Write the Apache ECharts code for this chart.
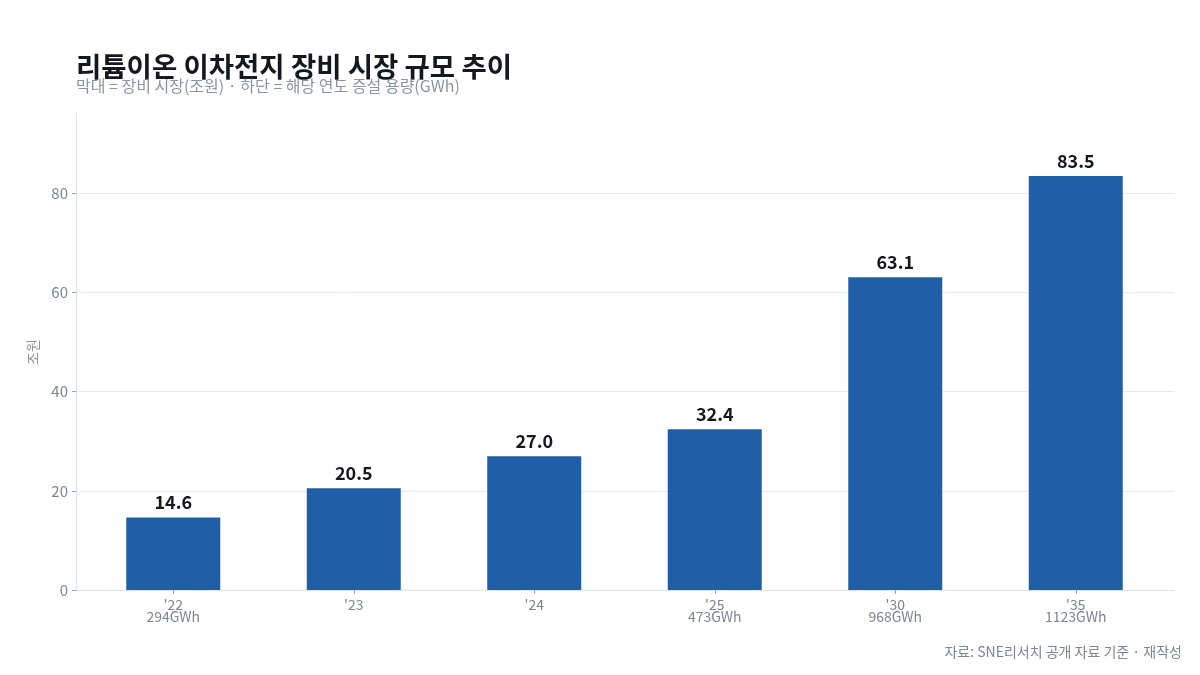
<!DOCTYPE html>
<html>
<head>
<meta charset="utf-8">
<script src="https://cdn.jsdelivr.net/npm/echarts@6/dist/echarts.min.js"></script>
<style>
  html, body { margin: 0; padding: 0; background: #fff; }
  #main { width: 1200px; height: 675px; }
</style>
</head>
<body>
<div id="main"></div>
<script>
var years = ["'22", "'23", "'24", "'25", "'30", "'35"];
var capacity = ['294GWh', '', '', '473GWh', '968GWh', '1123GWh'];
var marketSize = [14.6, 20.5, 27.0, 32.4, 63.1, 83.5];

var FONT = '"Noto Sans CJK KR", "Noto Sans", sans-serif';
var myChart;

document.addEventListener('DOMContentLoaded', function()
{
    myChart = echarts.init(document.getElementById('main'), null, { renderer: 'canvas' });

    var option = {
        backgroundColor: '#ffffff',
        textStyle: { fontFamily: FONT },
        title: [
            {
                text: '리튬이온 이차전지 장비 시장 규모 추이',
                left: 76,
                top: 53,
                padding: 0,
                textStyle: { fontSize: 27.5, fontWeight: 'bold', color: '#15191f', fontFamily: FONT }
            },
            {
                text: '막대 = 장비 시장(조원) · 하단 = 해당 연도 증설 용량(GWh)',
                left: 76,
                top: 78,
                padding: 0,
                textStyle: { fontSize: 16, fontWeight: 'normal', color: '#8a94a3', fontFamily: FONT }
            },
            {
                text: '자료: SNE리서치 공개 자료 기준 · 재작성',
                right: 18,
                top: 645,
                padding: 0,
                textStyle: { fontSize: 14, fontWeight: 'normal', color: '#7b8593', fontFamily: FONT }
            }
        ],
        // grid 0 carries the frame (axis lines, gridlines), grid 1 the bars
        grid: [
            { left: 76, right: 26, top: 114, bottom: 85 },
            { left: 83, right: 34, top: 114, bottom: 85 }
        ],
        xAxis: [
            {
                type: 'category',
                gridIndex: 0,
                data: years,
                axisLine: { lineStyle: { color: '#dde3ec' } },
                axisTick: { show: false },
                axisLabel: { show: false }
            },
            {
                type: 'category',
                gridIndex: 1,
                data: years,
                axisLine: { show: false },
                axisTick: { show: true, alignWithLabel: true, length: 4, lineStyle: { color: '#9aa3af' } },
                axisLabel: {
                    color: '#7b8593',
                    fontSize: 14,
                    lineHeight: 12,
                    margin: 9,
                    formatter: function(value, idx) {
                        return capacity[idx] ? value + '\n' + capacity[idx] : value;
                    }
                }
            }
        ],
        yAxis: [
            {
                type: 'value',
                gridIndex: 0,
                min: 0,
                max: 96,
                interval: 20,
                name: '조원',
                nameLocation: 'middle',
                nameGap: 36,
                nameTextStyle: { color: '#8a94a3', fontSize: 14 },
                axisLine: { show: true, lineStyle: { color: '#dde3ec' } },
                axisTick: { show: true, length: 4, lineStyle: { color: '#9aa3af' } },
                axisLabel: { color: '#7b8593', fontSize: 15, margin: 8, showMaxLabel: false },
                splitLine: { showMaxLine: false, lineStyle: { color: '#e4e8ef' } }
            },
            {
                type: 'value',
                gridIndex: 1,
                min: 0,
                max: 96,
                interval: 20,
                show: false
            }
        ],
        series: [
            {
                name: '장비 시장',
                type: 'bar',
                xAxisIndex: 1,
                yAxisIndex: 1,
                data: marketSize,
                barWidth: 94,
                itemStyle: { color: '#1f5fa7' },
                label: {
                    show: true,
                    position: 'top',
                    distance: 6,
                    color: '#15191f',
                    fontSize: 18,
                    fontWeight: 'bold',
                    formatter: function(p) { return p.value.toFixed(1); }
                }
            }
        ]
    };

    myChart.setOption(option);
    window.addEventListener('resize', myChart.resize);
});
</script>
</body>
</html>
